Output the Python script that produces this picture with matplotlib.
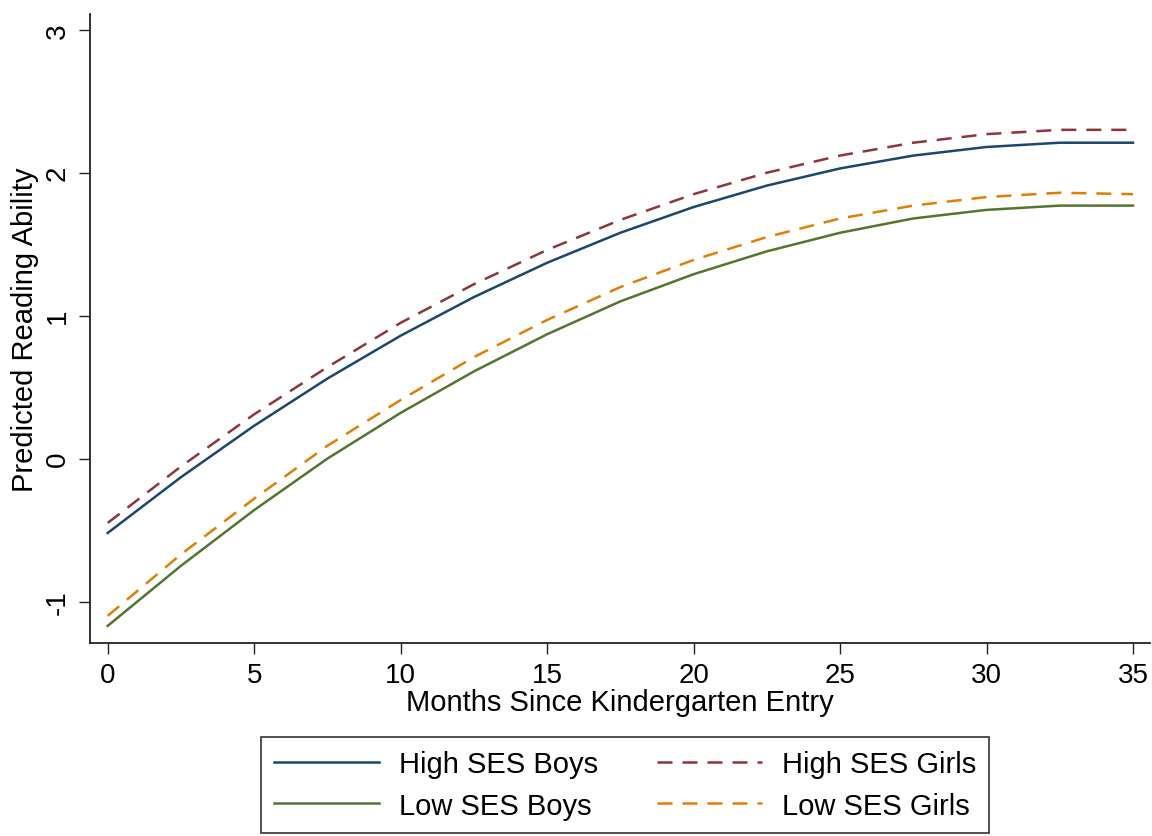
import matplotlib
matplotlib.use("Agg")
import matplotlib.pyplot as plt

# months since kindergarten entry and predicted reading ability
months = [0, 2.5, 5, 7.5, 10, 12.5, 15, 17.5, 20, 22.5, 25, 27.5, 30, 32.5, 35]
high_boys = [-0.52, -0.13, 0.23, 0.56, 0.86, 1.13, 1.37, 1.58, 1.76, 1.91, 2.03, 2.12, 2.18, 2.21, 2.21]
high_girls = [-0.45, -0.055, 0.31, 0.64, 0.95, 1.22, 1.46, 1.67, 1.85, 2.00, 2.12, 2.21, 2.27, 2.30, 2.30]
low_boys = [-1.17, -0.75, -0.36, 0.00, 0.32, 0.61, 0.87, 1.10, 1.29, 1.45, 1.58, 1.68, 1.74, 1.77, 1.77]
low_girls = [-1.10, -0.67, -0.28, 0.09, 0.41, 0.71, 0.97, 1.20, 1.39, 1.55, 1.68, 1.77, 1.83, 1.86, 1.85]

xticks = [0, 5, 10, 15, 20, 25, 30, 35]
yticks = [-1, 0, 1, 2, 3]

plt.rcParams['font.family'] = ['Liberation Sans', 'DejaVu Sans']

fig = plt.figure(figsize=(11.52, 8.37), dpi=100)
ax = fig.add_axes([0.078, 0.2306, 0.92, 0.7514])

lw = 1.8
l1, = ax.plot(months, high_boys, color="#1a476f", lw=lw, label="High SES Boys")
l2, = ax.plot(months, high_girls, color="#90353b", lw=lw, ls=(0, (6, 4)), label="High SES Girls")
l3, = ax.plot(months, low_boys, color="#55752f", lw=lw, label="Low SES Boys")
l4, = ax.plot(months, low_girls, color="#e37e00", lw=lw, ls=(0, (6, 4)), label="Low SES Girls")

ax.set_xlim(-0.61, 35.57)
ax.set_ylim(-1.29, 3.11)
ax.set_xticks(xticks)
ax.set_yticks(yticks)
ax.set_yticklabels([str(v) for v in yticks], rotation=90, va="center")

for s in ["top", "right"]:
    ax.spines[s].set_visible(False)
for s in ["left", "bottom"]:
    ax.spines[s].set_linewidth(1.3)
    ax.spines[s].set_color("#222222")
ax.tick_params(axis="both", length=8, width=1.0, color="#222222", labelsize=20)
ax.tick_params(axis="x", pad=6)
ax.tick_params(axis="y", pad=6)

ax.set_xlabel("Months Since Kindergarten Entry", fontsize=21, labelpad=0)
ax.set_ylabel("Predicted Reading Ability", fontsize=21, labelpad=4)

leg = fig.legend([l1, l3, l2, l4],
                 ["High SES Boys", "Low SES Boys", "High SES Girls", "Low SES Girls"],
                 ncol=2, loc="center", bbox_to_anchor=(625 / 1152, 1 - 786 / 837),
                 fontsize=21, frameon=True, fancybox=False, edgecolor="black",
                 handlelength=3.6, handletextpad=0.7, columnspacing=2.0,
                 labelspacing=0.45, borderpad=0.45)
leg.get_frame().set_linewidth(1.2)

fig.savefig("out.png", dpi=100)
